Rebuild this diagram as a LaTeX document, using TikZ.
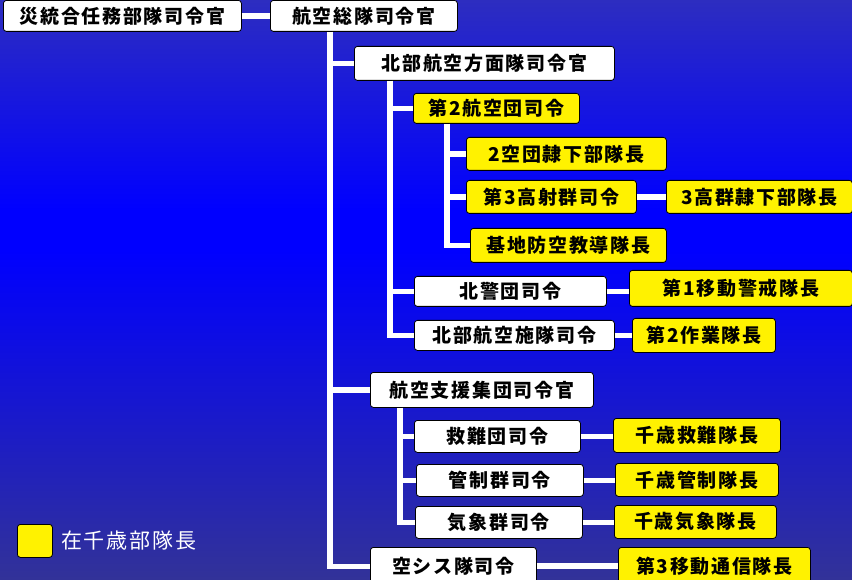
\documentclass[tikz,border=0pt]{standalone}
\usepackage{fontspec}
\newfontfamily\jpfont{Noto Sans CJK JP}[LetterSpace=9]
\usetikzlibrary{positioning}

\definecolor{bgtop}{RGB}{45,45,192}
\definecolor{bgmid}{RGB}{0,0,255}
\definecolor{bgbot}{RGB}{50,50,152}

\tikzset{
  post/.style={draw=black, line width=0.8pt, rounded corners=3pt, inner sep=0pt,
    anchor=north west, text=black,
    font=\jpfont\bfseries\fontsize{19}{19}\selectfont},
  wbox/.style={post, fill=white},
  ybox/.style={post, fill=yellow},
  link/.style={draw=white, line width=5.5pt},
}

\begin{document}
\begin{tikzpicture}[x=1pt, y=-1pt]
  \useasboundingbox (0,0) rectangle (852,580);

  % background
  \fill[top color=bgtop, bottom color=bgmid] (0,0) rectangle (852,210);
  \fill[bgmid] (0,210) rectangle (852,250);
  \fill[top color=bgmid, bottom color=bgbot] (0,250) rectangle (852,580);

  % top line
  \node[wbox, minimum width=238, minimum height=31] (saigai) at (3,0) {災統合任務部隊司令官};
  \node[wbox, minimum width=187, minimum height=31] (sotai) at (270,0) {航空総隊司令官};

  % northern air defense force
  \node[wbox, minimum width=260, minimum height=34] (hokubu) at (354,46) {北部航空方面隊司令官};
  \node[ybox, minimum width=166, minimum height=30] (wing2) at (413,93) {第2航空団司令};
  \node[ybox, minimum width=200, minimum height=33] (wingsub) at (466,137) {2空団隷下部隊長};
  \node[ybox, minimum width=170, minimum height=33] (aaa3) at (466,180) {第3高射群司令};
  \node[ybox, minimum width=186, minimum height=33] (aaasub) at (666,180) {3高群隷下部隊長};
  \node[ybox, minimum width=196, minimum height=34] (kichi) at (470,228) {基地防空教導隊長};
  \node[wbox, minimum width=192, minimum height=30] (hokkei) at (414,276) {北警団司令};
  \node[ybox, minimum width=223, minimum height=36] (ido1) at (629,270) {第1移動警戒隊長};
  \node[wbox, minimum width=200, minimum height=30] (shisetsu) at (414,320) {北部航空施隊司令};
  \node[ybox, minimum width=143, minimum height=34] (sagyo) at (632,318) {第2作業隊長};

  % air support command
  \node[wbox, minimum width=223, minimum height=35] (shien) at (370,372) {航空支援集団司令官};
  \node[wbox, minimum width=166, minimum height=32] (kyunan) at (414,420) {救難団司令};
  \node[ybox, minimum width=167, minimum height=34] (ckyunan) at (613,418) {千歳救難隊長};
  \node[wbox, minimum width=167, minimum height=32] (kansei) at (416,464) {管制群司令};
  \node[ybox, minimum width=163, minimum height=33] (ckansei) at (615,463) {千歳管制隊長};
  \node[wbox, minimum width=167, minimum height=32] (kisho) at (415,506) {気象群司令};
  \node[ybox, minimum width=162, minimum height=33] (ckisho) at (614,505) {千歳気象隊長};

  % air systems
  \node[wbox, minimum width=166, minimum height=38] (kushisu) at (370,547) {空シス隊司令};
  \node[ybox, minimum width=192, minimum height=38] (ido3) at (618,547) {第3移動通信隊長};

  % connectors
  \draw[link] (saigai.east) -- (sotai.west);
  \foreach \c in {hokubu, shien, kushisu}
    \draw[link] ([xshift=60]sotai.south west) |- (\c.west);
  \foreach \c in {wing2, hokkei, shisetsu}
    \draw[link] ([xshift=36]hokubu.south west) |- (\c.west);
  \foreach \c in {wingsub, aaa3, kichi}
    \draw[link] ([xshift=34]wing2.south west) |- (\c.west);
  \foreach \c in {kyunan, kansei, kisho}
    \draw[link] ([xshift=30]shien.south west) |- (\c.west);
  \draw[link] (aaa3.east) -- (aaa3.east -| aaasub.west);
  \draw[link] (hokkei.east) -- (hokkei.east -| ido1.west);
  \draw[link] (shisetsu.east) -- (shisetsu.east -| sagyo.west);
  \draw[link] (kyunan.east) -- (kyunan.east -| ckyunan.west);
  \draw[link] (kansei.east) -- (kansei.east -| ckansei.west);
  \draw[link] (kisho.east) -- (kisho.east -| ckisho.west);
  \draw[link] ([yshift=-19]kushisu.north east) -- ([yshift=-19]kushisu.north east -| ido3.west);

  % legend
  \node[ybox, minimum width=35, minimum height=33] (key) at (17,524) {};
  \node[right=8 of key, inner sep=0pt, text=white,
    font=\jpfont\fontsize{21}{21}\selectfont] (keytext) {在千歳部隊長};
\end{tikzpicture}
\end{document}
